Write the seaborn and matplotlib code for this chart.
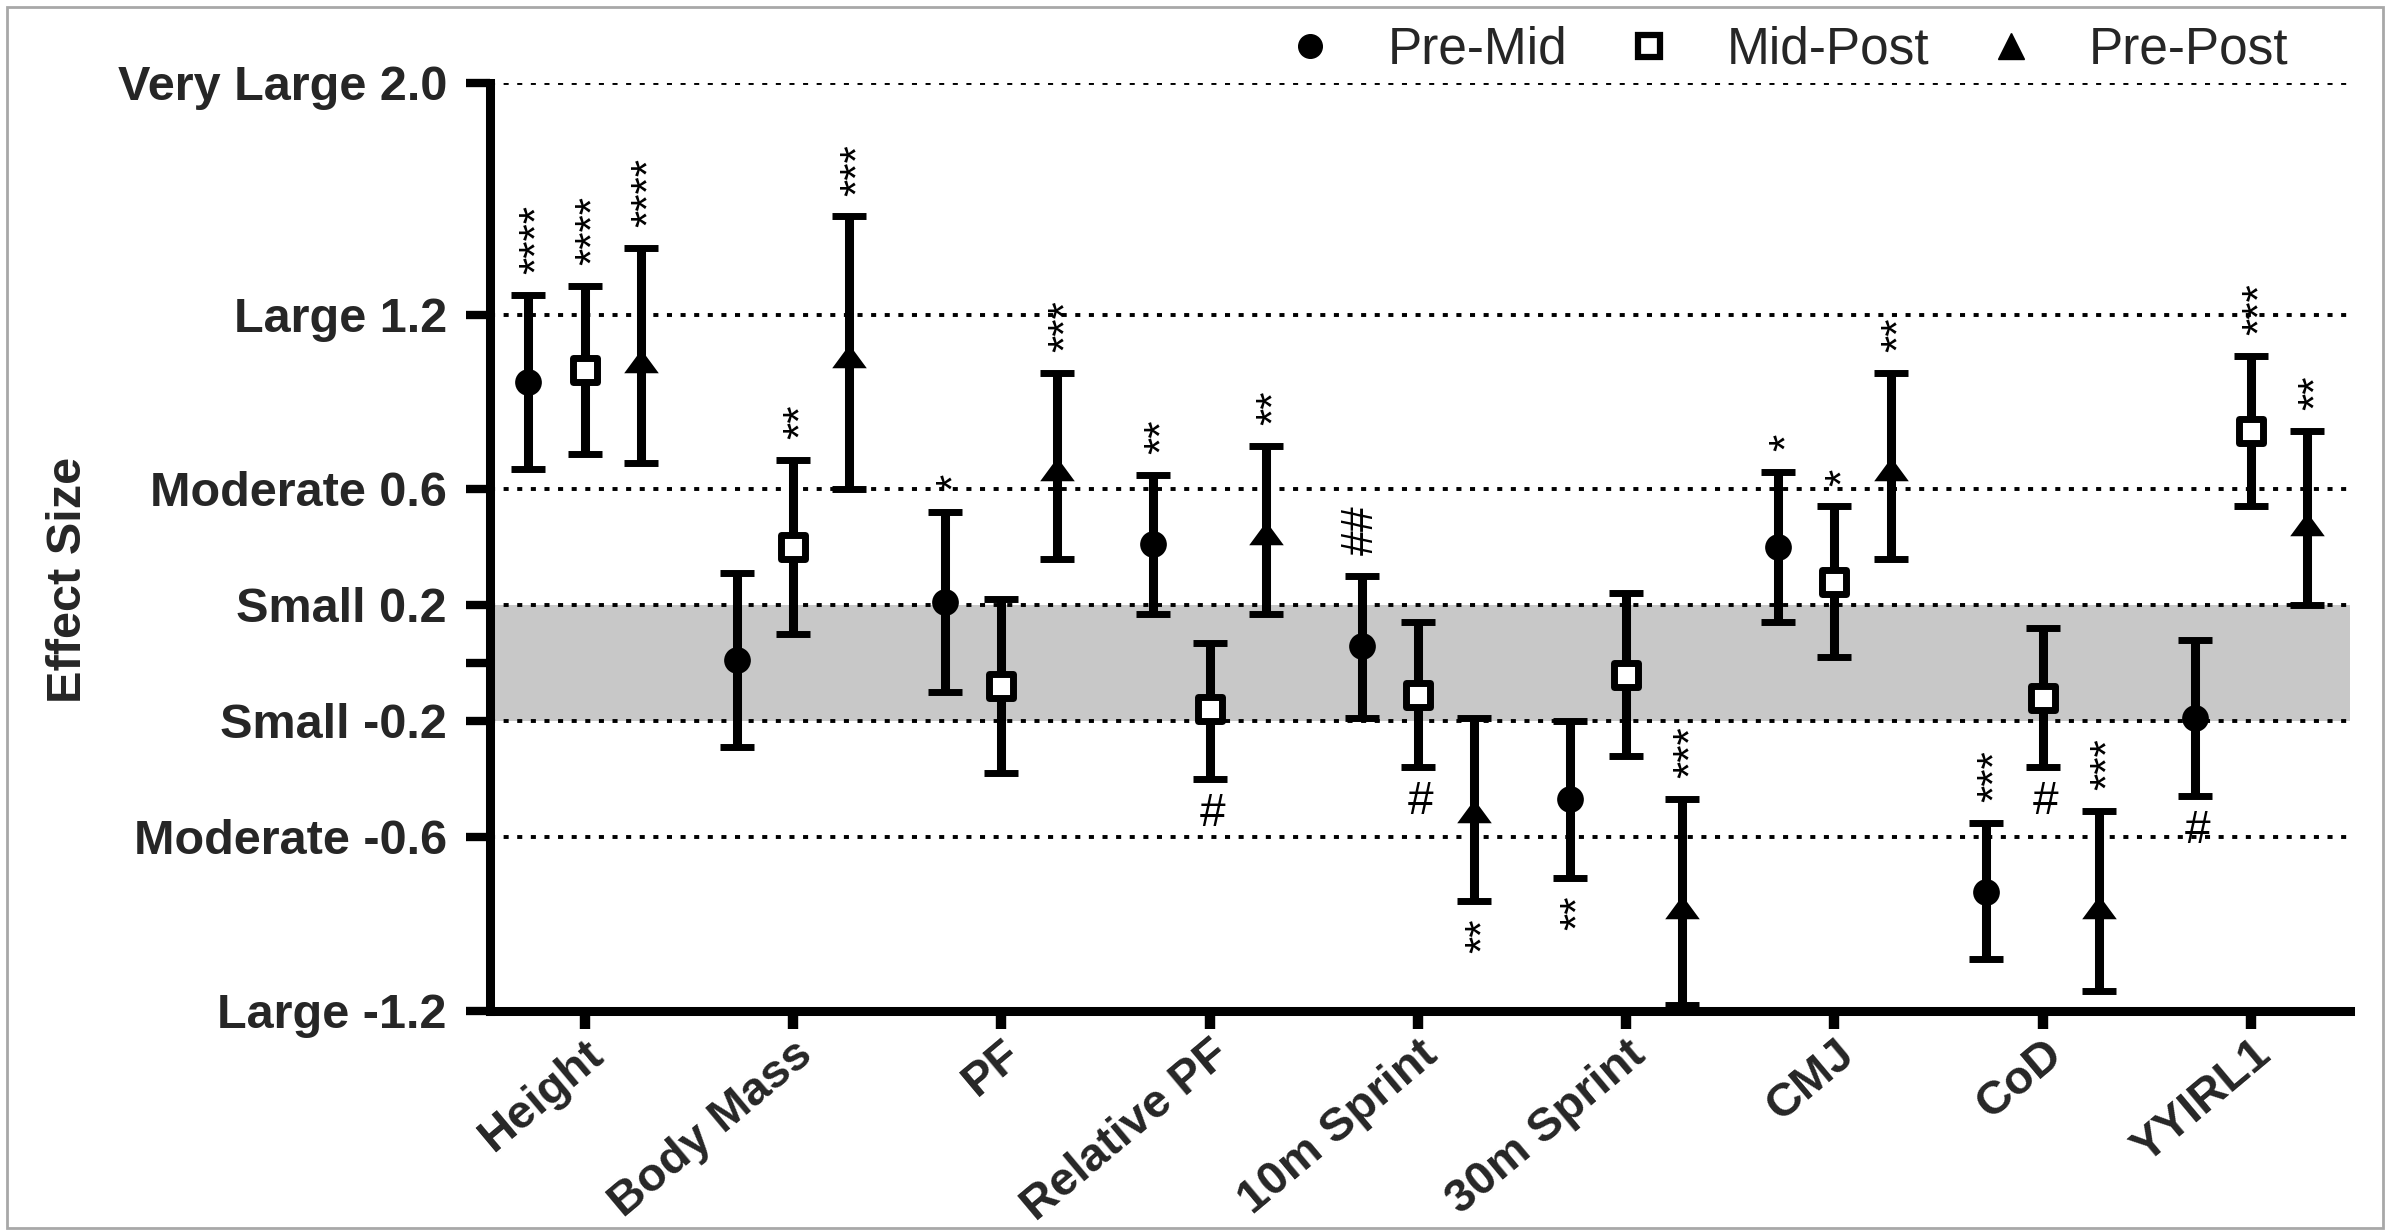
import matplotlib
matplotlib.use("Agg")
import matplotlib.pyplot as plt
import matplotlib.transforms as mtransforms
import numpy as np
import pandas as pd
import seaborn as sns
from matplotlib.lines import Line2D
from matplotlib.patches import Rectangle

sns.set_theme(style="white")
plt.rcParams['font.family'] = ['Liberation Sans', 'DejaVu Sans']

categories = ["Height", "Body Mass", "PF", "Relative PF", "10m Sprint",
              "30m Sprint", "CMJ", "CoD", "YYIRL1"]

pre_mid = [0.97, 0.01, 0.21, 0.41, 0.06, -0.47, 0.40, -0.79, -0.19]
pre_mid_lo = [0.67, -0.29, -0.10, 0.17, -0.19, -0.74, 0.14, -1.02, -0.46]
pre_mid_hi = [1.27, 0.31, 0.52, 0.65, 0.30, -0.20, 0.66, -0.55, 0.08]

mid_post = [1.01, 0.40, -0.08, -0.16, -0.11, -0.04, 0.28, -0.12, 0.80]
mid_post_lo = [0.72, 0.10, -0.38, -0.40, -0.36, -0.32, 0.02, -0.36, 0.54]
mid_post_hi = [1.30, 0.70, 0.22, 0.07, 0.14, 0.24, 0.54, 0.12, 1.06]

pre_post = [1.04, 1.06, 0.67, 0.45, -0.51, -0.84, 0.67, -0.84, 0.48]
pre_post_lo = [0.69, 0.60, 0.36, 0.17, -0.82, -1.18, 0.36, -1.13, 0.20]
pre_post_hi = [1.43, 1.54, 1.00, 0.75, -0.19, -0.47, 1.00, -0.51, 0.80]

# significance marks above / below each interval
pre_mid_above = ["****", "", "*", "**", "##", "", "*", "***", ""]
pre_mid_below = ["", "", "", "", "", "**", "", "", "#"]
mid_post_above = ["****", "**", "", "", "", "", "*", "", "***"]
mid_post_below = ["", "", "", "#", "#", "", "", "#", ""]
pre_post_above = ["****", "***", "***", "**", "", "***", "**", "***", "**"]
pre_post_below = ["", "", "", "", "**", "", "", "", ""]

y_ticks = [2.0, 1.2, 0.6, 0.2, -0.2, -0.6, -1.2]
y_tick_labels = ["Very Large 2.0", "Large 1.2", "Moderate 0.6", "Small 0.2",
                 "Small -0.2", "Moderate -0.6", "Large -1.2"]
ref_lines = [2.0, 1.2, 0.6, 0.2, -0.2, -0.6]

series = [
    ("Pre-Mid", pre_mid, pre_mid_lo, pre_mid_hi, pre_mid_above, pre_mid_below),
    ("Mid-Post", mid_post, mid_post_lo, mid_post_hi, mid_post_above, mid_post_below),
    ("Pre-Post", pre_post, pre_post_lo, pre_post_hi, pre_post_above, pre_post_below),
]
offsets = {"Pre-Mid": -0.27, "Mid-Post": 0.0, "Pre-Post": 0.27}
tri = [(-1, -0.68), (1, -0.68), (0, 0.68)]
marker_style = {
    "Pre-Mid": dict(marker="o", s=370, facecolor="black", edgecolor="black", linewidth=0),
    "Mid-Post": dict(marker="s", s=300, facecolor="white", edgecolor="black", linewidth=5),
    "Pre-Post": dict(marker=tri, s=620, facecolor="black", edgecolor="black", linewidth=0),
}

W, H = 2389, 1230
fig = plt.figure(figsize=(W / 100, H / 100), dpi=100)
ax = fig.add_axes([490 / W, 1 - 1011 / H, (2350 - 490) / W, (1011 - 83) / H])

ax.axhspan(-0.2, 0.2, color="#c8c8c8", zorder=0, lw=0)
for y in ref_lines:
    ax.axhline(y, color="black", lw=2.8, linestyle=(0, (1.3, 2.2)), zorder=1)

xs = np.arange(len(categories))
for name, vals, lo, hi, above, below in series:
    df = pd.DataFrame({"x": xs + offsets[name], "y": vals, "lo": lo, "hi": hi})
    ax.errorbar(df["x"], df["y"], yerr=[df["y"] - df["lo"], df["hi"] - df["y"]],
                fmt="none", ecolor="black", elinewidth=6.5, capsize=12.5,
                capthick=5, zorder=3)
    sns.scatterplot(data=df, x="x", y="y", ax=ax, zorder=4, legend=False,
                    **marker_style[name])
    for i in range(len(categories)):
        if above[i]:
            dx = 7 if "*" in above[i] else 0
            ax.annotate(above[i], (df["x"][i], df["hi"][i]), xytext=(dx, 15),
                        textcoords="offset points", rotation=90, ha="center",
                        va="bottom", fontsize=32, color="black")
        if below[i]:
            if "*" in below[i]:
                ax.annotate(below[i], (df["x"][i], df["lo"][i]), xytext=(7, -13),
                            textcoords="offset points", rotation=90, ha="center",
                            va="top", fontsize=32, color="black")
            else:
                ax.annotate(below[i], (df["x"][i], df["lo"][i]), xytext=(2, -9),
                            textcoords="offset points", ha="center", va="top",
                            fontsize=33, color="black")

ax.set_xlim(-0.454, 8.475)
ax.set_ylim(-1.2, 2.0)
ax.set_xticks(xs)
ax.set_xticklabels(categories, rotation=40, ha="right", va="top",
                   rotation_mode="anchor", fontsize=34, fontweight="bold")
shift = mtransforms.ScaledTranslation(0.06, 0, fig.dpi_scale_trans)
for lab in ax.get_xticklabels():
    lab.set_transform(lab.get_transform() + shift)
ax.set_yticks(y_ticks)
ax.set_yticklabels(y_tick_labels, fontsize=35, fontweight="bold")
ax.set_yticks([0.0], minor=True)
ax.tick_params(axis="y", which="both", direction="out", length=17, width=6,
               pad=14, left=True, color="black")
ax.tick_params(axis="x", direction="out", length=13, width=7.5, pad=2,
               bottom=True, color="black")
ax.set_xlabel("")
ax.set_ylabel("Effect Size", fontsize=35, fontweight="bold")
ax.yaxis.set_label_coords((91 - 490) / 1860, (1011 - 580) / 928)

sns.despine(ax=ax)
for side in ["left", "bottom"]:
    ax.spines[side].set_linewidth(6.5)
    ax.spines[side].set_color("black")
    ax.spines[side].set_zorder(5)

handles = [
    Line2D([], [], linestyle="none", marker="o", markersize=17,
           markerfacecolor="black", markeredgecolor="black"),
    Line2D([], [], linestyle="none", marker="s", markersize=16,
           markerfacecolor="white", markeredgecolor="black", markeredgewidth=4.5),
    Line2D([], [], linestyle="none", marker="^", markersize=19,
           markerfacecolor="black", markeredgecolor="black"),
]
fig.legend(handles, ["Pre-Mid", "Mid-Post", "Pre-Post"], loc="center right",
           bbox_to_anchor=(2288 / W, 1 - 50 / H), ncol=3, frameon=False,
           fontsize=37, handletextpad=1.0, columnspacing=1.1, borderpad=0,
           borderaxespad=0, handlelength=1.0)

fig.patches.append(Rectangle((7 / W, 2 / H), (2383 - 7) / W, (1228 - 7) / H,
                             transform=fig.transFigure, fill=False,
                             edgecolor="#a8a8a8", lw=2))

fig.savefig("out.png", dpi=100)
